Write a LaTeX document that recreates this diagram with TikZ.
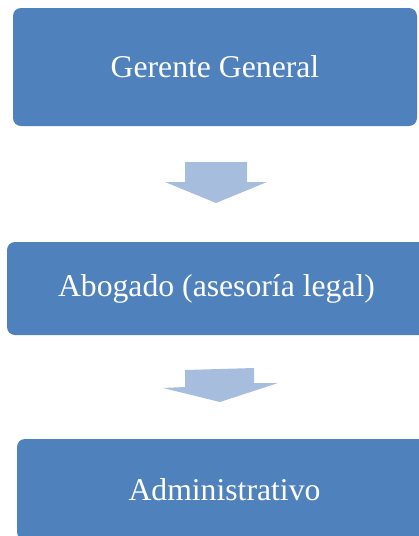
\documentclass[tikz,border=0pt]{standalone}
\usepackage{fontspec}
\setmainfont{Liberation Serif}
\definecolor{boxblue}{HTML}{4F81BD}
\definecolor{arrowblue}{HTML}{A7BDDD}
\begin{document}
\begin{tikzpicture}[x=1pt,y=-1pt,
  stepbox/.style={fill=boxblue,draw=none,rounded corners=8pt,text=white,
    font=\fontsize{31.7}{36}\selectfont,inner sep=0pt},
  downarrow/.style={fill=arrowblue,draw=none}]
\useasboundingbox (0,0) rectangle (419,536);
\clip (0,0) rectangle (419,536);
\node[stepbox,minimum width=404pt,minimum height=118pt] (g) at (215,67) {Gerente General};
\node[stepbox,minimum width=419pt,minimum height=93pt] (a) at (216.5,288.5) {Abogado (asesoría legal)};
\node[stepbox,minimum width=415pt,minimum height=101pt] (d) at (224.5,489.5) {Administrativo};
\fill[downarrow] (185,162) -- (247,162) -- (247,182) -- (267,182) -- (216,203) -- (165,182) -- (185,182) -- cycle;
\fill[downarrow] (185,370) -- (254,368) -- (254,383) -- (278,383) -- (220,402) -- (163,388) -- (185,387) -- cycle;
\end{tikzpicture}
\end{document}
